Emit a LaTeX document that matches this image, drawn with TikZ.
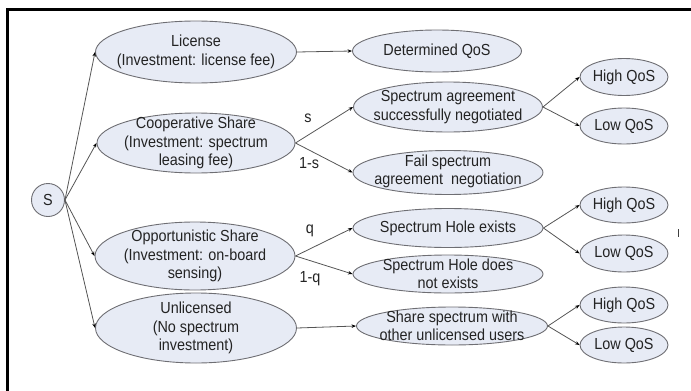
\documentclass[tikz,border=0pt]{standalone}
\usepackage{fontspec}
\setmainfont{Liberation Sans}[FakeStretch=0.9]
\usetikzlibrary{shapes.geometric,arrows.meta}
\definecolor{ellfill}{RGB}{231,235,245}
\definecolor{elldraw}{RGB}{110,110,115}
\definecolor{linec}{RGB}{85,85,85}
\definecolor{txtc}{RGB}{35,35,35}
\tikzset{
  ell/.style={ellipse, draw=elldraw, fill=ellfill, line width=0.9pt, inner sep=0pt},
  txt/.style={align=center, text=txtc, inner sep=0pt, font=\fontsize{16}{18.5}\selectfont},
  conn/.style={draw=linec, line width=0.8pt, -{Stealth[length=4.5pt,width=3.5pt,black]}},
  prob/.style={text=txtc, inner sep=0pt, font=\fontsize{16}{18.5}\selectfont},
}
\begin{document}
\begin{tikzpicture}[x=1pt,y=-1pt]
\useasboundingbox (0,0) rectangle (691,391);
% frame
\draw[line width=2.2pt, black] (7.5,391) -- (7.5,9.5) -- (691,9.5);
% root
\node[ell, minimum width=33, minimum height=33] (S) at (48,200) {};
\node[txt] at (S) {S};
% first column
\node[ell, minimum width=201, minimum height=62] (lic) at (196,52) {};
\node[txt] at (lic) {License\\(Investment: license fee)};
\node[ell, minimum width=198, minimum height=60] (coop) at (196,143) {};
\node[txt] at (coop) {Cooperative Share\\(Investment: spectrum\\leasing fee)};
\node[ell, minimum width=200, minimum height=68] (opp) at (195,256) {};
\node[txt] at (opp) {Opportunistic Share\\(Investment: on-board\\sensing)};
\node[ell, minimum width=201, minimum height=70] (unl) at (196,328) {};
\node[txt] at (unl) {Unlicensed\\(No spectrum\\investment)};
% second column
\node[ell, minimum width=169, minimum height=42] (det) at (437,51) {};
\node[txt] at (det) {Determined QoS};
\node[ell, minimum width=189, minimum height=50] (agr) at (448,107) {};
\node[txt] at (agr) {Spectrum agreement\\successfully negotiated};
\node[ell, minimum width=190, minimum height=44] (fail) at (448,172.5) {};
\node[txt] at ([yshift=1pt]fail) {Fail spectrum\\agreement\ \ negotiation};
\node[ell, minimum width=190, minimum height=39] (hole) at (448,228) {};
\node[txt] at (hole) {Spectrum Hole exists};
\node[ell, minimum width=190, minimum height=38] (nohole) at (448,274) {};
\node[txt] at (nohole) {Spectrum Hole does\\not exists};
\node[ell, minimum width=191, minimum height=38] (share) at (452,326) {};
\node[txt] at (share) {Share spectrum with\\other unlicensed users};
% third column
\node[ell, minimum width=88, minimum height=37] (h1) at (624,77) {};
\node[txt] at (h1) {High QoS};
\node[ell, minimum width=88, minimum height=36] (l1) at (624,126) {};
\node[txt] at (l1) {Low QoS};
\node[ell, minimum width=88, minimum height=36] (h2) at (624,205) {};
\node[txt] at (h2) {High QoS};
\node[ell, minimum width=88, minimum height=37] (l2) at (624,253.5) {};
\node[txt] at (l2) {Low QoS};
\node[ell, minimum width=88, minimum height=36] (h3) at (624,305) {};
\node[txt] at (h3) {High QoS};
\node[ell, minimum width=88, minimum height=36] (l3) at (624,345) {};
\node[txt] at (l3) {Low QoS};
% connectors
\draw[conn] (S.east) -- (lic.west);
\draw[conn] (S.east) -- (coop.west);
\draw[conn] (S.east) -- (opp.west);
\draw[conn] (S.east) -- (unl.west);
\draw[conn] (lic.east) -- (det.west);
\draw[conn] (coop.east) -- (agr.west);
\draw[conn] (coop.east) -- (fail.west);
\draw[conn] (opp.east) -- (hole.west);
\draw[conn] (opp.east) -- (nohole.west);
\draw[conn] (unl.east) -- (share.west);
\draw[conn] (agr.east) -- (h1.west);
\draw[conn] (agr.east) -- (l1.west);
\draw[conn] (hole.east) -- (h2.west);
\draw[conn] (hole.east) -- (l2.west);
\draw[conn] (share.east) -- (h3.west);
\draw[conn] (share.east) -- (l3.west);
% probabilities
\node[prob] (ps) at (308,118) {s};
\node[prob] (p1s) at (309,163) {1-s};
\node[prob] (pq) at (310,231) {q};
\node[prob] (p1q) at (310,279) {1-q};
% stray tick
\draw[line width=1pt, black!75] (678.5,229) -- (678.5,237);
\end{tikzpicture}
\end{document}
